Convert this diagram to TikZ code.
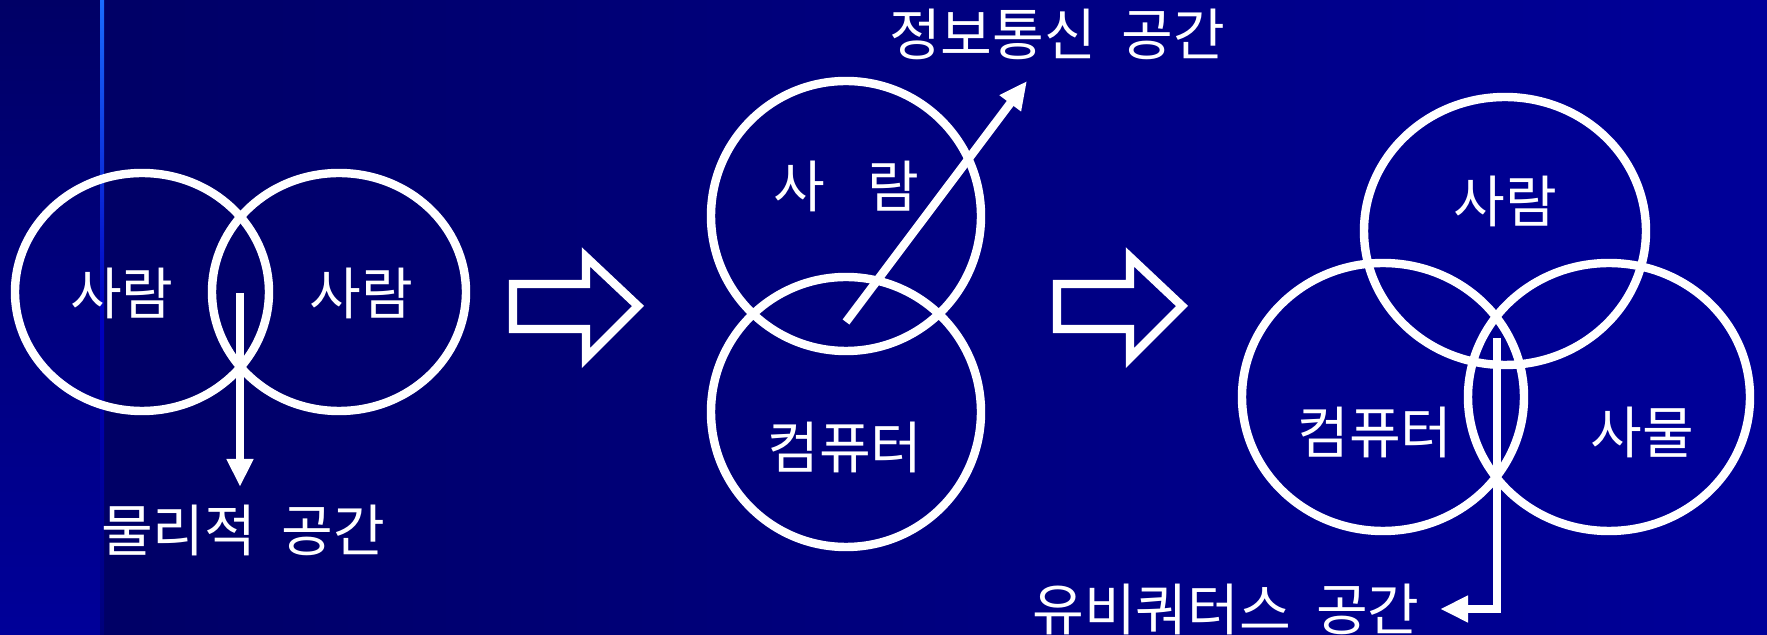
\documentclass[tikz,border=0pt]{standalone}
\usepackage{fontspec}
\setmainfont{Noto Sans CJK KR}[WordSpace=2]
\usetikzlibrary{shapes.geometric,arrows.meta}
\definecolor{slideDark}{HTML}{000066}
\definecolor{slideBlue}{HTML}{000099}
\definecolor{slideLine}{HTML}{1A6CFF}

\begin{document}
\begin{tikzpicture}[x=0.1mm,y=-0.1mm]
\tikzset{
    venn/.style={ellipse,draw=white,line width=2.4pt,inner sep=0pt},
    vennText/.style={text=white,inner sep=0pt,font=\fontsize{16pt}{19pt}\selectfont},
    spaceArrow/.style={draw=white,line width=2.4pt,-{Triangle[width=2.5mm,length=2.8mm]}},
    blockArrow/.style={draw=white,line width=2.4pt},
}
\useasboundingbox (0,0) rectangle (1767,635);
% background
\shade[left color=slideDark,right color=slideBlue] (103,0) rectangle (1767,635);
\shade[top color=slideDark,bottom color=slideBlue] (0,0) rectangle (103,635);
\shade[top color=slideLine,bottom color=slideBlue!80!black,middle color=blue!75!black] (100,0) rectangle (104,635);

% physical space
\node[venn,minimum width=25.4mm,minimum height=23.8mm] (man1) at (142,292) {};
\node[venn,minimum width=25.4mm,minimum height=23.8mm] (man2) at (339,292) {};
\node[vennText] (man1Text) at (122,293) {사람};
\node[vennText] (man2Text) at (361,293) {사람};
\coordinate (physStart) at (240,293);
\coordinate (physEnd) at (240,487);
\node[vennText] (physText) at (243,530) {물리적 공간};
\draw[spaceArrow] (physStart) -- (physEnd);

% block arrows
\foreach \bx in {513,1057} {
    \draw[blockArrow] (\bx,284) -- ++(73,0) -- ++(0,-27) -- ++(52,49) -- ++(-52,52) -- ++(0,-29) -- ++(-73,0) -- cycle;
}

% information space
\node[venn,minimum width=27mm,minimum height=27mm] (infoMan) at (846,216) {};
\node[venn,minimum width=27mm,minimum height=27mm] (infoCom) at (846,412) {};
\node[vennText] (infoManText) at (846,186) {사\hspace{0.75em}람};
\node[vennText] (infoComText) at (845,447) {컴퓨터};
\coordinate (infoStart) at (846,322);
\coordinate (infoEnd) at (1027,81);
\node[vennText] (infoText) at (1057,34) {정보통신 공간};
\draw[spaceArrow] (infoStart) -- (infoEnd);

% ubiquitous space
\node[venn,minimum width=28.2mm,minimum height=26.8mm] (ubiMan) at (1505,231) {};
\node[venn,minimum width=28.2mm,minimum height=26.8mm] (ubiCom) at (1383,397) {};
\node[venn,minimum width=28.2mm,minimum height=26.8mm] (ubiThing) at (1609,397) {};
\node[vennText] (ubiManText) at (1505,201) {사람};
\node[vennText] (ubiComText) at (1375,432) {컴퓨터};
\node[vennText] (ubiThingText) at (1642,432) {사물};
\coordinate (ubiStart) at (1497,338);
\coordinate (ubiEnd) at (1440,609);
\node[vennText] (ubiText) at (1226,609) {유비쿼터스 공간};
\draw[spaceArrow] (ubiStart) |- (ubiEnd);
\end{tikzpicture}
\end{document}
